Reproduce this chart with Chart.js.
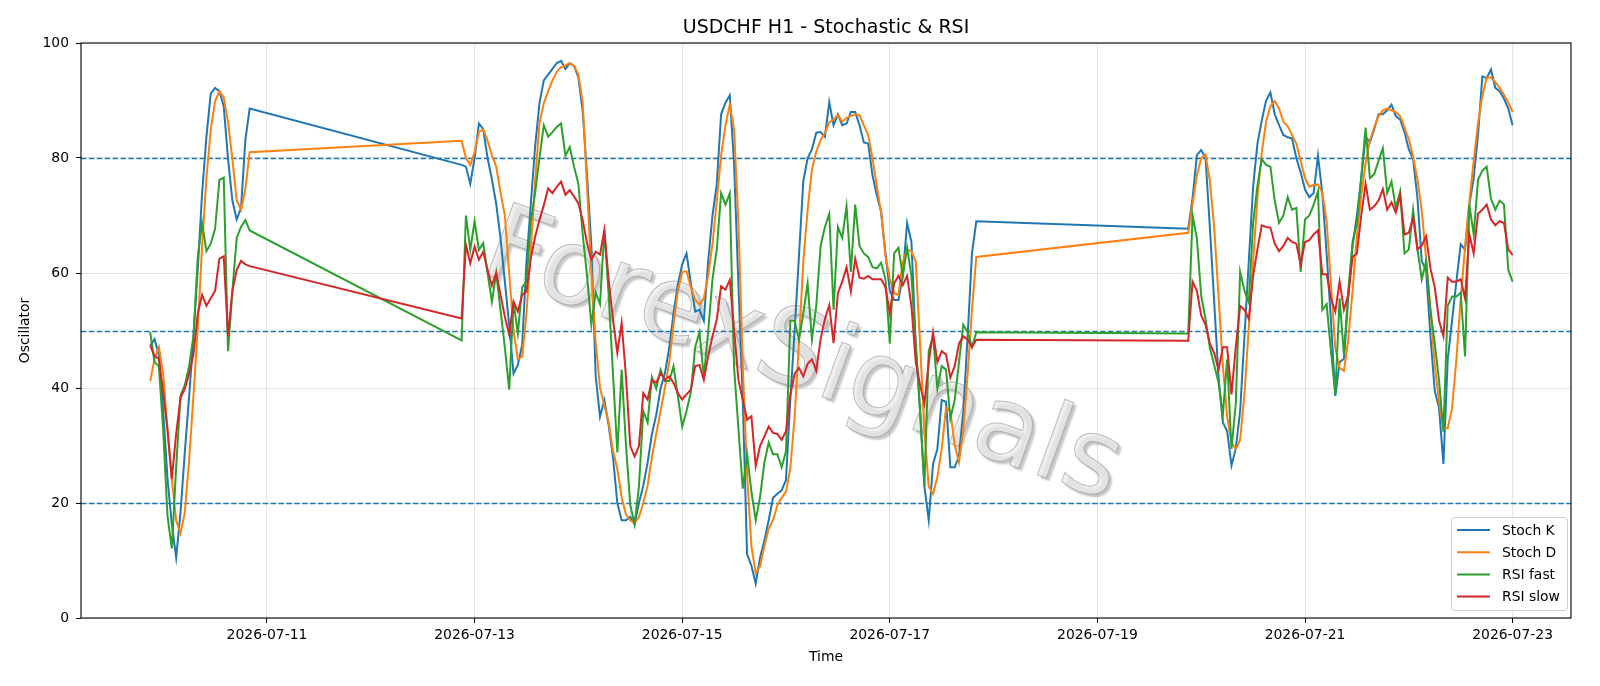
<!DOCTYPE html>
<html>
<head>
<meta charset="utf-8">
<script src="https://cdn.jsdelivr.net/npm/chart.js@4.4.1/dist/chart.umd.min.js"></script>
<style>
  html, body { margin: 0; padding: 0; background: #fff; }
  #wrap { width: 1600px; height: 686px; }
</style>
</head>
<body>
<div id="wrap"><canvas id="oscChart" width="1600" height="686"></canvas></div>
<script>
// x = hours since 2026-07-11 00:00, one bar per hour, weekend gaps left out
const segStarts = [-27, 45, 213];
const segLengths = [24, 120, 76];
const tickHours = [0, 48, 96, 144, 192, 240, 288];
const tickLabels = ["2026-07-11", "2026-07-13", "2026-07-15", "2026-07-17", "2026-07-19", "2026-07-21", "2026-07-23"];
const levels = [20, 50, 80];
const chartTitle = "USDCHF H1 - Stochastic & RSI";

const stochK = [
  47.4, 48.5, 45.8, 36, 24.2, 16.3, 10.5, 18.3, 28.8, 38.6, 49, 60.8, 73.9, 83.7, 91.2, 92.2, 91.6, 89, 79.8, 72.6, 69.3, 71.3, 83.1, 88.6,
  78.8, 78.5, 75.5, 80, 86, 85, 80, 76.3, 72, 66,
  58.5, 51, 42.5, 44, 47.5, 62, 72, 82, 89.5, 93.5,
  94.5, 95.5, 96.5, 96.9, 95.5, 96.5, 96, 94, 88, 77,
  64.8, 42, 35, 37.9, 33.5, 28, 20, 17, 17, 17.6,
  16.3, 20, 23, 27, 32, 35.3, 39.9, 42.5, 47, 53,
  58, 61.5, 63.4, 58.2, 53.3, 53.6, 51.7, 62, 70, 75.5,
  87.6, 89.6, 90.9, 79, 58, 38, 11.1, 9.1, 6, 10.5,
  13.5, 17, 20.9, 21.6, 22.2, 24, 38, 50, 63, 76,
  80, 81.5, 84.4, 84.5, 83.7, 89.7, 85.7, 87.6, 85.7, 86,
  88, 88, 85.7, 82.7, 82.5, 77, 73.5, 70.6, 63.4, 56.9,
  55.3, 55.3, 59.5, 68.7, 65.4, 47.7, 36, 22.9, 17, 26.8,
  29.4, 37.9, 37.6, 26.2, 26.2, 28.1, 36, 49, 63.4, 69,
  67.7, 73, 80.5, 81.4, 80, 68, 55, 42, 34, 32.5,
  26.5, 29.5, 36, 49, 62, 75, 82.5, 86.5, 90, 91.4,
  87.6, 85.7, 84, 83.6, 83.4, 80, 77.5, 74.5, 73.2, 73.9,
  80.4, 73.9, 63.4, 51.7, 38.6, 44.5, 45.1, 55.6, 64.7, 70,
  76.5, 83.7, 82.7, 85, 87.6, 87.6, 88.3, 89.3, 87.3, 86.7,
  84.5, 81.5, 79.8, 73, 62, 60.5, 49, 39.5, 36.5, 26.8,
  45, 51.7, 58.5, 65, 64.1, 71.9, 76.5, 84, 94.2, 93.9,
  95.4, 92.2, 91.6, 90.3, 88.6, 85.7
];
const stochD = [
  41.2, 45.1, 47.1, 42.5, 32.7, 24.2, 17, 14.7, 18.3, 27.5, 38.6, 50.4, 64.7, 76.5, 85, 89.9, 91.6, 90.6, 86.3, 79.8, 72.6, 71, 74.6, 81,
  83, 80, 78.8, 81, 84.5, 85, 83, 80.5, 78.5, 74,
  70, 60, 50, 45, 45.5, 53, 64, 76, 86, 89.5,
  91.6, 93.5, 95, 95.8, 96.1, 96.5, 96, 94.5, 89.6, 75,
  60, 48, 40, 37, 34, 29, 26, 21, 18, 17,
  16.5, 17.5, 20, 23, 28, 32, 36, 40, 44.5, 51,
  56.9, 60.2, 60.3, 57.5, 55.3, 54.5, 55.6, 59.5, 65, 72.6,
  80.4, 85.7, 89.3, 85, 68.7, 44, 25, 12.5, 7.8, 9,
  12.5, 15.5, 17, 19.6, 20.9, 22, 26, 35, 48, 62,
  71, 78, 81.1, 83.1, 84.4, 86.2, 86.7, 87.5, 86.3, 87,
  87.3, 87.6, 87.4, 85.7, 84, 80, 75, 70.5, 63, 59,
  56.5, 56.2, 62, 64, 63.8, 62, 47.7, 32.7, 22.9, 21.6,
  24.5, 29.4, 36.6, 36, 30.1, 27.1, 32.7, 42.5, 53.6, 62.8,
  67, 72, 77, 80, 80.6, 76, 68, 56, 44, 35,
  30.5, 29.4, 31, 39, 50.5, 62, 73, 81, 86.3, 89,
  89.9, 88.6, 86.3, 85.5, 84, 82.5, 79.5, 76.5, 75, 75.3,
  75.4, 74, 69, 58, 47, 43.5, 43, 48.5, 57, 66.5,
  73.5, 79.1, 83.1, 85.3, 87.3, 88.3, 88.6, 88.3, 88, 87.3,
  85.3, 83.3, 80.2, 76.3, 70.8, 62.5, 53.5, 44, 37.5, 33,
  33, 36.5, 45, 55.5, 64.5, 72.5, 79.5, 86, 90.8, 94,
  94, 93.2, 92.2, 91, 89.6, 88
];
const rsiFast = [
  49.7, 44.5, 43.8, 32.7, 17.7, 12.1, 26.2, 38.6, 40.5, 43.8, 49, 62.8, 68.7, 63.8, 65.1, 67.7, 76.2, 76.6, 46.4, 56.9, 66.1, 68, 69.2, 67.4,
  48.3, 70, 64, 69, 64, 65.2, 60, 55, 60, 53.5,
  47, 39.7, 55, 49.5, 57.5, 58.5, 69, 74, 80, 85.7,
  83.7, 84.5, 85.4, 86, 80.4, 81.9, 78.5, 75.5, 66.7, 59.5,
  51, 56.6, 54.6, 67.4, 56.2, 42.5, 28.8, 43.2, 30.1, 19.6,
  16.3, 22.9, 36, 34, 41.9, 39.9, 43.2, 41.2, 41.2, 43.8,
  38.6, 33.3, 36, 39.2, 47.1, 49.7, 41.9, 49.7, 58.9, 64.1,
  73.9, 71.9, 73.9, 43.5, 33, 22.5, 28.5, 22, 17, 21,
  27, 30.5, 28.5, 28.5, 26.2, 29, 51.7, 51.7, 48.4, 53,
  58.2, 48.4, 54.3, 64.7, 68, 70.3, 53.6, 68, 66.1, 71.6,
  60.2, 71.9, 64.7, 63.4, 62.8, 61, 60.8, 61.8, 58.9, 47.7,
  63.4, 64.4, 59.5, 64.4, 59.5, 47.7, 36, 22.9, 46.4, 49,
  39.9, 43.8, 43.2, 34.7, 37.9, 44.5, 51, 49.7, 47.1, 49.7,
  49.5, 70, 66, 56, 52, 47, 44, 41, 35.3, 45,
  29.4, 37.3, 60.2, 56.9, 54.9, 68.7, 75.2, 79.8, 78.8, 78.5,
  72.6, 68.7, 70, 73.2, 71, 71.3, 60.2, 69.3, 70, 71.9,
  74.2, 53.6, 54.6, 46.4, 38.9, 55.6, 45.8, 56.9, 65.4, 68.7,
  76.5, 85.3, 76.5, 77.2, 79.5, 81.7, 73.9, 75.9, 71.3, 74.2,
  63.4, 64.1, 71, 64.1, 58.9, 62.1, 53.6, 47.7, 41.2, 32.4,
  54.3, 55.9, 55.9, 56.6, 45.5, 71.9, 66.7, 76.2, 77.8, 78.5,
  72.9, 71, 72.6, 71.9, 60.5, 58.5
];
const rsiSlow = [
  47.4, 45.5, 45.1, 39.3, 32.7, 24.2, 32, 38.3, 39.9, 42.5, 45.8, 53, 56.2, 54.3, 55.6, 56.9, 62.5, 62.9, 49, 56.9, 60.5, 62.1, 61.5, 61.2,
  52.1, 64.9, 61.7, 64.6, 62.3, 63.7, 60.5, 57.8, 60, 56.2,
  52.4, 49.3, 55, 53.3, 56.2, 56.8, 62.6, 66.3, 69.2, 71.8,
  74.7, 73.9, 75, 75.9, 73.6, 74.4, 73.3, 72.1, 69.2, 65.2,
  62.3, 63.7, 63.2, 67.5, 58.8, 51.9, 46.1, 51.3, 42, 29.9,
  28.1, 29.9, 39.1, 38, 41.4, 40.9, 42.6, 41.4, 42, 40.9,
  39.1, 38, 38.9, 39.7, 43.8, 44, 41.4, 45.5, 49, 51.9,
  57.7, 57.1, 58.8, 50.1, 41.4, 38, 34.5, 35.1, 26.4, 29.9,
  31.6, 33.3, 32.2, 32, 31, 32.5, 38.8, 42.5, 43.5, 42,
  44.2, 45, 43, 48.5, 52, 54.4, 47.8, 56.5, 58.5, 61,
  56.8, 62.5, 59.2, 59, 59.5, 58.9, 58.9, 58.9, 57.5, 53,
  58.2, 59.5, 57.9, 59.5, 54.3, 44.5, 40.5, 37.3, 44.5, 49.7,
  44.5, 46.4, 45.8, 41.8, 43.8, 47.7, 49, 48.4, 47.1, 48.4,
  48.2, 58.5, 56.9, 52.6, 51, 47.7, 46.1, 43.2, 47.1, 47.1,
  38.9, 47.1, 54.3, 53.6, 52, 59.5, 64.1, 68.3, 68, 67.9,
  65.1, 63.8, 64.7, 66.1, 65.4, 65.1, 61.5, 65.4, 65.7, 66.7,
  67.4, 59.8, 59.8, 55.6, 53.3, 58.5, 53.6, 56.2, 62.8, 63.4,
  70, 75.5, 71, 71.6, 72.6, 74.6, 71, 72.3, 70.5, 73.5,
  66.7, 67, 69.6, 64.1, 64.8, 66.4, 60.8, 57.5, 51.7, 49,
  59.2, 58.5, 58.5, 58.9, 55.6, 66.7, 63.4, 70.3, 71, 71.9,
  69.3, 68.3, 69, 68.7, 64.1, 63.1
];

const hours = [];
segStarts.forEach((s, i) => {
  for (let h = 0; h < segLengths[i]; h++) hours.push(s + h);
});
const toPoints = vals => vals.map((v, i) => ({x: hours[i], y: v}));

const FONT = "'DejaVu Sans', sans-serif";

const axTitle = {
  id: "axTitle",
  afterDraw(chart) {
    const {ctx, chartArea: a} = chart;
    ctx.save();
    ctx.font = "19px " + FONT;
    ctx.fillStyle = "#000";
    ctx.textAlign = "center";
    ctx.textBaseline = "middle";
    ctx.fillText(chartTitle, (a.left + a.right) / 2, 28);
    ctx.restore();
  }
};

const refLines = {
  id: "refLines",
  beforeDatasetsDraw(chart) {
    const {ctx, chartArea, scales} = chart;
    ctx.save();
    ctx.strokeStyle = "#1f77b4";
    ctx.lineWidth = 1.5;
    ctx.setLineDash([5.5, 2.4]);
    levels.forEach(l => {
      const y = Math.round(scales.y.getPixelForValue(l)) + 0.5;
      ctx.beginPath();
      ctx.moveTo(chartArea.left, y);
      ctx.lineTo(chartArea.right, y);
      ctx.stroke();
    });
    ctx.restore();
  }
};

const watermark = {
  id: "watermark",
  beforeDatasetsDraw(chart) {
    const {ctx} = chart;
    ctx.save();
    ctx.translate(802, 360);
    ctx.rotate(20 * Math.PI / 180);
    ctx.font = "106px " + FONT;
    ctx.textAlign = "center";
    ctx.textBaseline = "middle";
    ctx.shadowColor = "rgba(0,0,0,0.3)";
    ctx.shadowOffsetX = 3;
    ctx.shadowOffsetY = 3;
    ctx.shadowBlur = 2;
    ctx.fillStyle = "rgba(235,235,235,0.75)";
    ctx.fillText("ForexSignals", 0, 0);
    ctx.shadowColor = "transparent";
    ctx.lineWidth = 1;
    ctx.strokeStyle = "rgba(140,140,140,0.55)";
    ctx.strokeText("ForexSignals", 0, 0);
    ctx.restore();
  }
};

const frame = {
  id: "frame",
  afterDatasetsDraw(chart) {
    const {ctx, chartArea: a} = chart;
    ctx.save();
    ctx.strokeStyle = "#000";
    ctx.lineWidth = 1.1;
    ctx.strokeRect(a.left, a.top, a.right - a.left, a.bottom - a.top);
    ctx.restore();
  }
};

const boxLegend = {
  id: "boxLegend",
  afterDraw(chart) {
    const {ctx, chartArea: a} = chart;
    const sets = chart.data.datasets;
    const w = 116, rowH = 22.2, h = 93;
    const x0 = a.right - 4 - w, y0 = a.bottom - 8 - h;
    ctx.save();
    ctx.beginPath();
    ctx.roundRect(x0 + 0.5, y0 + 0.5, w, h, 3);
    ctx.fillStyle = "rgba(255,255,255,0.8)";
    ctx.fill();
    ctx.strokeStyle = "#cccccc";
    ctx.lineWidth = 1;
    ctx.stroke();
    ctx.font = "13.9px " + FONT;
    ctx.textBaseline = "middle";
    ctx.fillStyle = "#000";
    sets.forEach((d, i) => {
      const y = y0 + 13 + i * rowH;
      ctx.strokeStyle = d.borderColor;
      ctx.lineWidth = 2;
      ctx.beginPath();
      ctx.moveTo(x0 + 6, y);
      ctx.lineTo(x0 + 39, y);
      ctx.stroke();
      ctx.fillText(d.label, x0 + 51, y + 1);
    });
    ctx.restore();
  }
};

const mkSet = (label, vals, color, order) => ({
  label, data: toPoints(vals), borderColor: color, backgroundColor: color,
  borderWidth: 2, pointRadius: 0, tension: 0, fill: false, order
});

new Chart(document.getElementById("oscChart"), {
  type: "line",
  data: {
    datasets: [
      mkSet("Stoch K", stochK, "#1f77b4", 4),
      mkSet("Stoch D", stochD, "#ff7f0e", 3),
      mkSet("RSI fast", rsiFast, "#2ca02c", 2),
      mkSet("RSI slow", rsiSlow, "#d62728", 1)
    ]
  },
  options: {
    responsive: false,
    animation: false,
    devicePixelRatio: 1,
    layout: {padding: {left: 0, right: 29, top: 43, bottom: 0}},
    plugins: {
      legend: {display: false},
      tooltip: {enabled: false},
      title: {display: false}
    },
    scales: {
      x: {
        type: "linear",
        min: -43,
        max: 301.5,
        afterBuildTicks: s => { s.ticks = tickHours.map(v => ({value: v})); },
        afterFit: s => { s.height = 68; },
        ticks: {
          callback: v => tickLabels[tickHours.indexOf(v)],
          color: "#000",
          font: {family: FONT, size: 13.9},
          maxRotation: 0,
          autoSkip: false,
          padding: 4
        },
        grid: {color: "rgba(0,0,0,0.1)", tickColor: "#000", tickLength: 5},
        border: {display: false},
        title: {display: true, text: "Time", color: "#000", font: {family: FONT, size: 13.9}, padding: {top: 0, bottom: 20}}
      },
      y: {
        min: 0,
        max: 100,
        afterFit: s => { s.width = 81; },
        ticks: {stepSize: 20, color: "#000", font: {family: FONT, size: 13.9}, padding: 7},
        grid: {color: "rgba(0,0,0,0.1)", tickColor: "#000", tickLength: 5},
        border: {display: false},
        title: {display: true, text: "Oscillator", color: "#000", font: {family: FONT, size: 13.9}, padding: {top: 17, bottom: 0}}
      }
    }
  },
  plugins: [watermark, refLines, frame, boxLegend, axTitle]
});
</script>
</body>
</html>
